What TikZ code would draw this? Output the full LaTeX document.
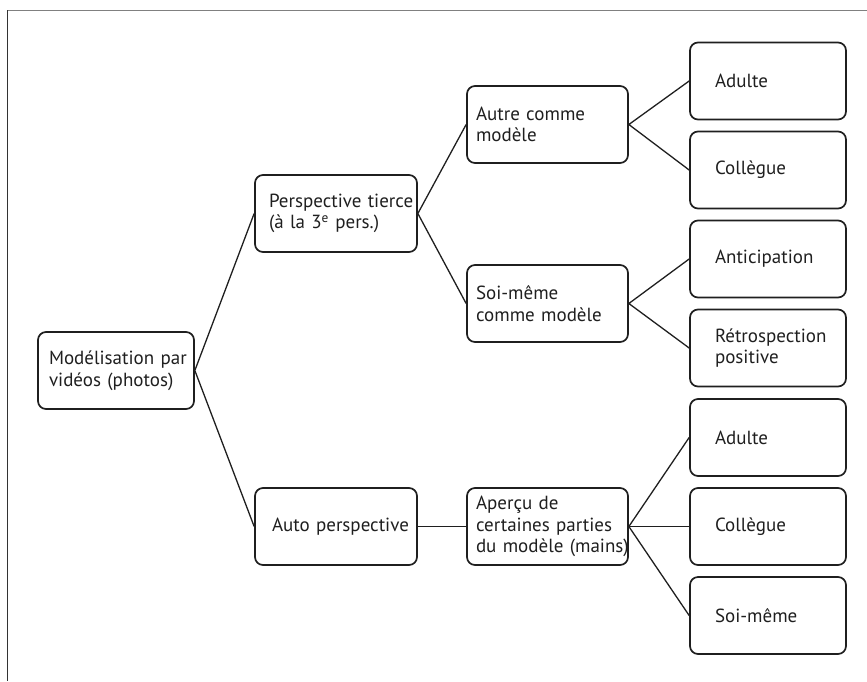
\documentclass[tikz,border=0pt]{standalone}
\usepackage{fontspec}
\setmainfont{PT Sans}
\begin{document}
\begin{tikzpicture}[x=1pt,y=-1pt,
  font=\fontsize{19}{21.5}\selectfont,
  every node/.style={text=black!88},
  box/.style={draw=black!88, line width=1.7pt, rounded corners=8pt,
    minimum height=77pt, align=left, inner ysep=0pt, inner xsep=0pt},
  % box width and left text margin; lines break only at \\
  col/.style 2 args={text width=#1pt,
    execute at begin node={\leftskip=#2pt\rightskip=-40pt plus 1fil\hyphenpenalty=10000\relax}},
  link/.style={draw=black!88, line width=1.3pt}]
\useasboundingbox (0,0) rectangle (867,681);
% outer frame
\draw[gray, line width=1pt] (7.5,10) -- (867,10);
\draw[black!80, line width=1pt] (7.5,10) -- (7.5,681);

% first level
\node[box, col={156}{11}] (root) at (116,370.5) {Modélisation par\\vidéos (photos)};
% second level
\node[box, col={162}{14}] (tierce) at (336,213.5) {Perspective tierce\\(à la 3\textsuperscript{e} pers.)};
\node[box, col={162}{17}] (auto) at (336,526.5) {Auto perspective};
% third level
\node[box, col={161}{9}] (autre) at (547.5,124.5) {Autre comme\\modèle};
\node[box, col={161}{9}] (soi) at (547.5,303.5) {Soi-même\\comme modèle};
\node[box, col={161}{9}] (apercu) at (547.5,526.5) {Aperçu de\\certaines parties\\du modèle (mains)};
% fourth level
\node[box, col={156}{25}] (adulteA) at (768,81) {Adulte};
\node[box, col={156}{25}] (collegueA) at (768,170) {Collègue};
\node[box, col={156}{25}] (antic) at (768,259) {Anticipation};
\node[box, col={156}{25}] (retro) at (768,348) {Rétrospection\\positive};
\node[box, col={156}{25}] (adulteB) at (768,437.5) {Adulte};
\node[box, col={156}{25}] (collegueB) at (768,526.5) {Collègue};
\node[box, col={156}{25}] (soiB) at (768,615.5) {Soi-même};

% connectors
\draw[link] (tierce.west) -- (root.east) -- (auto.west);
\draw[link] (autre.west) -- (tierce.east) -- (soi.west);
\draw[link] (auto.east) -- (apercu.west);
\draw[link] (adulteA.west) -- (autre.east) -- (collegueA.west);
\draw[link] (antic.west) -- (soi.east) -- (retro.west);
\draw[link] (adulteB.west) -- (apercu.east) -- (soiB.west);
\draw[link] (apercu.east) -- (collegueB.west);
\end{tikzpicture}
\end{document}
